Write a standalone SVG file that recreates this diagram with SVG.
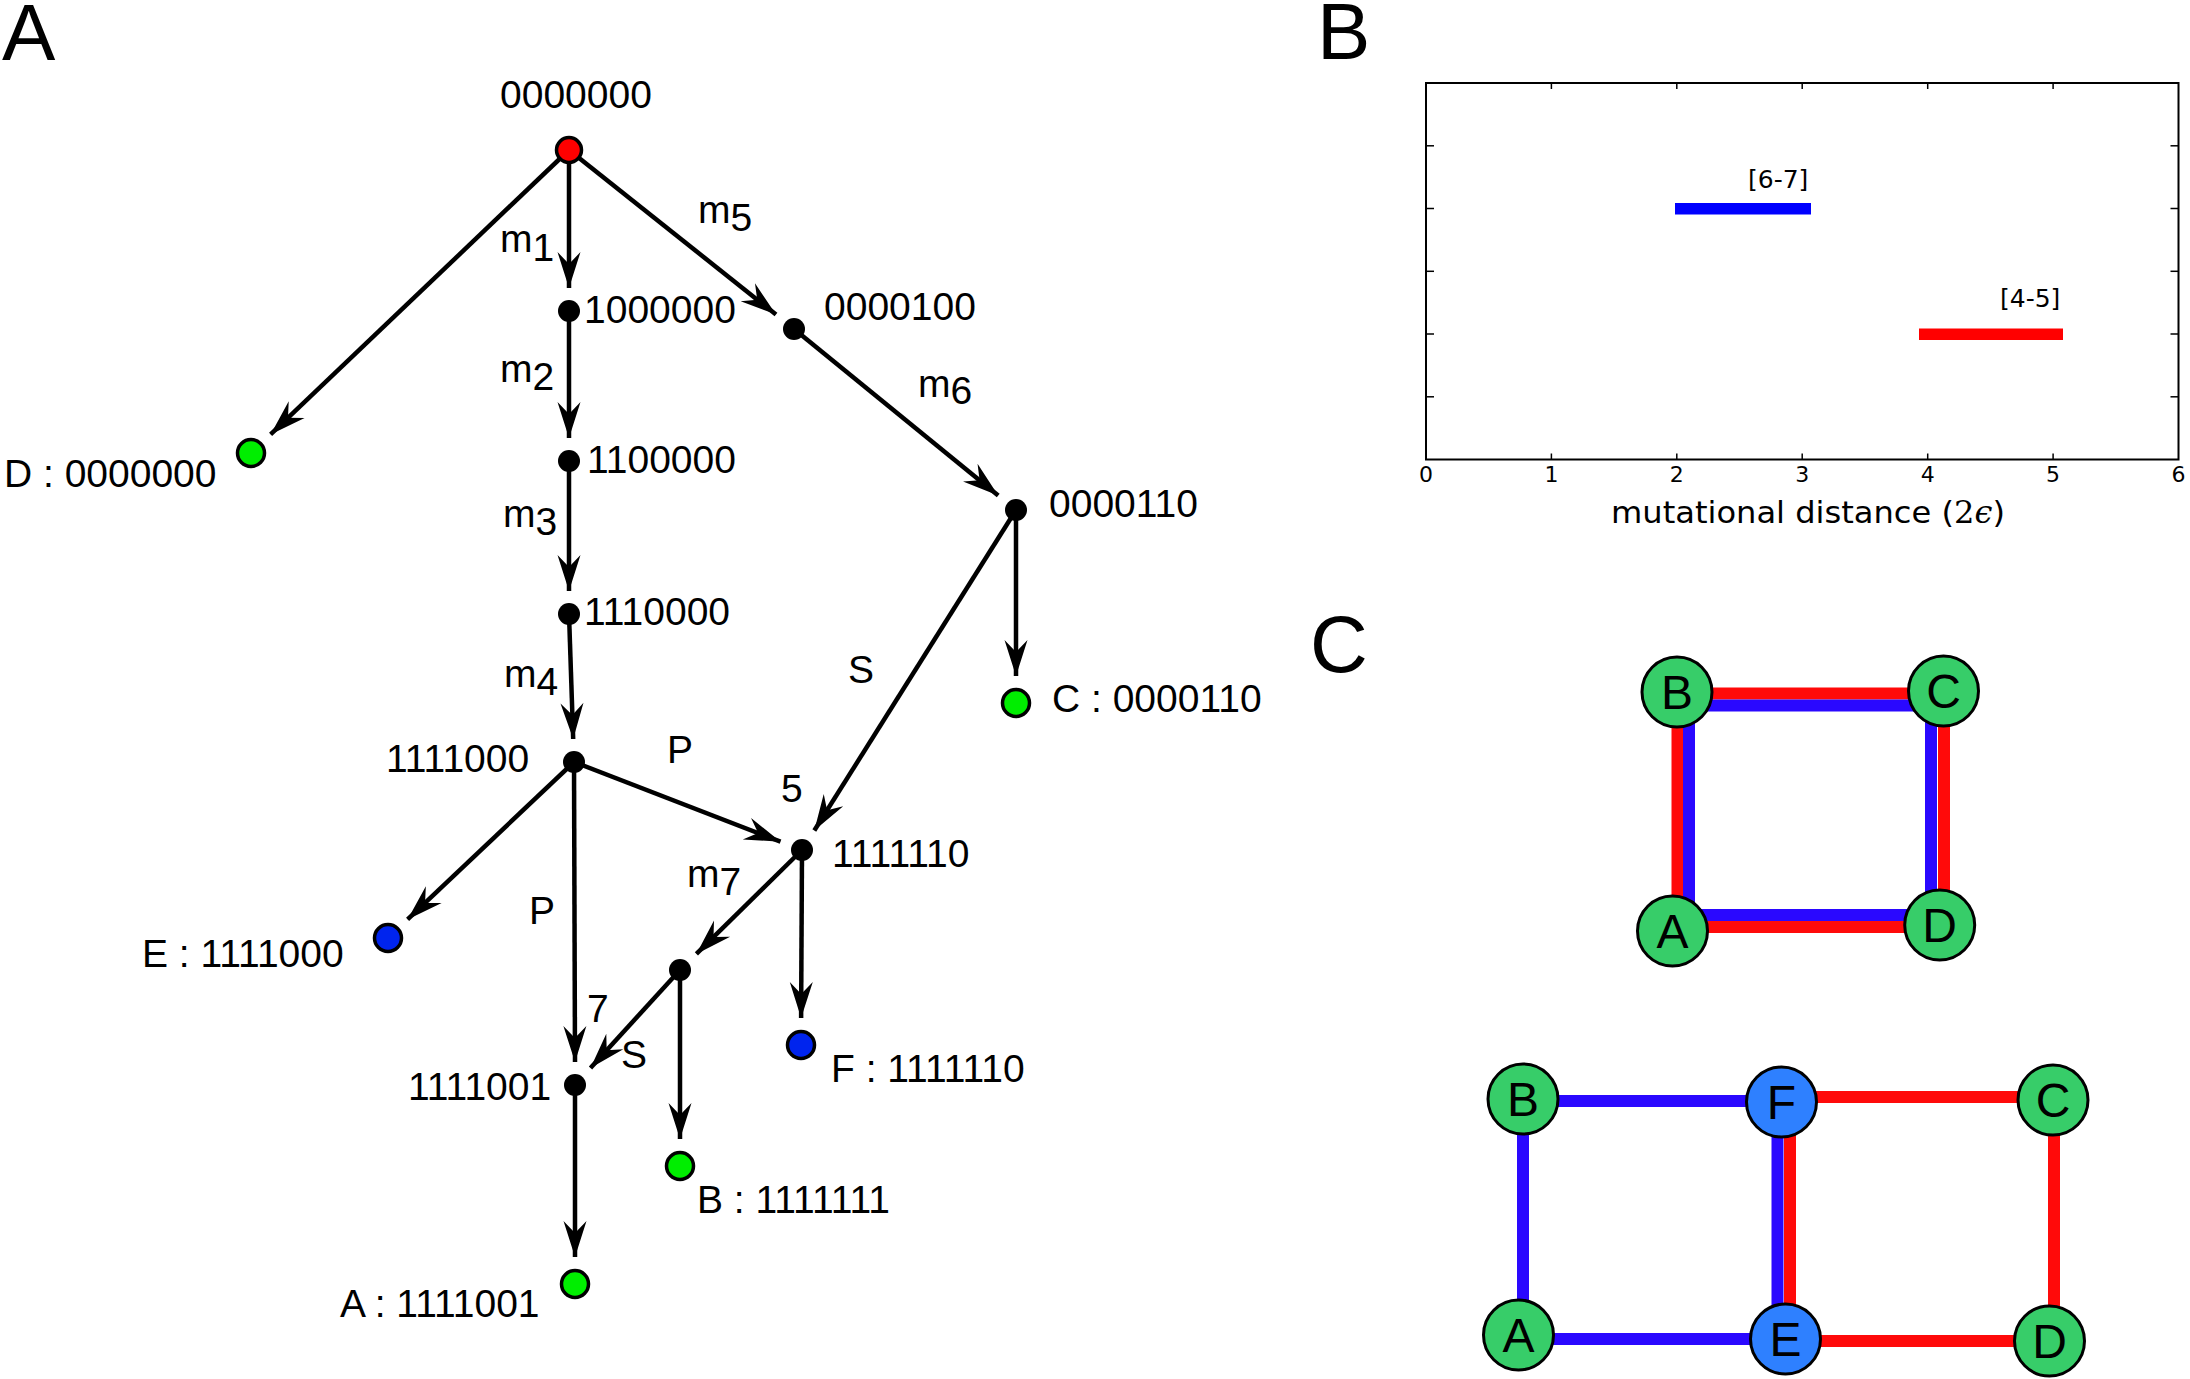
<svg xmlns="http://www.w3.org/2000/svg" width="2190" height="1379" viewBox="0 0 2190 1379">
<style>
.bg{fill:#ffffff}
.e{stroke:#000;stroke-width:4.5;fill:none}
.t{font-family:"Liberation Sans",Arial,sans-serif;font-size:39px;fill:#000}
.pl{font-family:"Liberation Sans",Arial,sans-serif;font-size:80px;fill:#000}
.dot{fill:#000}
.big{stroke:#000;stroke-width:3.5}
.red{fill:#ff0000}
.grn{fill:#00ee00}
.blu{fill:#0024ee}
.ax{stroke:#000;stroke-width:2;fill:none}
.tk{stroke:#000;stroke-width:1.5}
.bt{font-family:"DejaVu Sans",sans-serif;font-size:22px;fill:#000}
.cn{stroke:#000;stroke-width:3}
.cg{fill:#37cd69}
.cb{fill:#2e80ff}
.lr{stroke:#ff0a0a;stroke-width:12}
.lb{stroke:#2a08ff;stroke-width:12}
.ct{font-family:"Liberation Sans",Arial,sans-serif;font-size:48px;fill:#000;text-anchor:middle}
</style>
<defs>
<marker id="arr" viewBox="-50 -14 52 28" refX="-12" refY="0" markerWidth="52" markerHeight="28" markerUnits="userSpaceOnUse" orient="auto">
<path d="M-12,0 L-48,-11.5 L-36,0 L-48,11.5 Z" fill="#000"/>
</marker>
</defs>
<rect class="bg" x="0" y="0" width="2190" height="1379"/>

<!-- panel labels -->
<text class="pl" x="2" y="60">A</text>
<text class="pl" x="1317" y="59">B</text>
<text class="pl" x="1310" y="672">C</text>

<!-- Panel A connectors -->
<g id="connectors">
<line class="e" x1="569" y1="150" x2="569" y2="288" marker-end="url(#arr)"/>
<line class="e" x1="569" y1="311" x2="569" y2="438" marker-end="url(#arr)"/>
<line class="e" x1="569" y1="461" x2="569" y2="591" marker-end="url(#arr)"/>
<line class="e" x1="569" y1="614" x2="573.2" y2="739" marker-end="url(#arr)"/>
<line class="e" x1="569" y1="150" x2="776" y2="314.6" marker-end="url(#arr)"/>
<line class="e" x1="794" y1="329" x2="998.2" y2="495.4" marker-end="url(#arr)"/>
<line class="e" x1="569" y1="150" x2="270.6" y2="434.4" marker-end="url(#arr)"/>
<line class="e" x1="1016" y1="510" x2="1016" y2="676" marker-end="url(#arr)"/>
<line class="e" x1="1016" y1="510" x2="814.3" y2="830.5" marker-end="url(#arr)"/>
<line class="e" x1="574" y1="762" x2="780.5" y2="841.7" marker-end="url(#arr)"/>
<line class="e" x1="574" y1="762" x2="407.6" y2="919.4" marker-end="url(#arr)"/>
<line class="e" x1="574" y1="762" x2="575" y2="1062" marker-end="url(#arr)"/>
<line class="e" x1="802" y1="850" x2="696.4" y2="953.9" marker-end="url(#arr)"/>
<line class="e" x1="680" y1="970" x2="590.5" y2="1068" marker-end="url(#arr)"/>
<line class="e" x1="680" y1="970" x2="680" y2="1139" marker-end="url(#arr)"/>
<line class="e" x1="802" y1="850" x2="801.1" y2="1018" marker-end="url(#arr)"/>
<line class="e" x1="575" y1="1085" x2="575" y2="1257" marker-end="url(#arr)"/>
</g>

<g id="edge-labels">
<text class="t" x="500" y="252">m<tspan dy="9">1</tspan></text>
<text class="t" x="500" y="382">m<tspan dy="8">2</tspan></text>
<text class="t" x="503" y="527">m<tspan dy="8">3</tspan></text>
<text class="t" x="504" y="687">m<tspan dy="8">4</tspan></text>
<text class="t" x="698" y="223">m<tspan dy="8">5</tspan></text>
<text class="t" x="918" y="397">m<tspan dy="7">6</tspan></text>
<text class="t" x="687" y="887">m<tspan dy="8">7</tspan></text>
<text class="t" x="667" y="763">P</text>
<text class="t" x="529" y="924">P</text>
<text class="t" x="781" y="802">5</text>
<text class="t" x="587" y="1022">7</text>
<text class="t" x="621" y="1068">S</text>
<text class="t" x="848" y="683">S</text>
</g>

<!-- Panel A nodes -->
<g id="n0000000"><circle class="big red" cx="569" cy="150" r="12.5"/><text class="t" x="500" y="108">0000000</text></g>
<g id="n1000000"><circle class="dot" cx="569" cy="311" r="11"/><text class="t" x="584" y="323">1000000</text></g>
<g id="n1100000"><circle class="dot" cx="569" cy="461" r="11"/><text class="t" x="587" y="473">1100000</text></g>
<g id="n1110000"><circle class="dot" cx="569" cy="614" r="11"/><text class="t" x="584" y="625">1110000</text></g>
<g id="n1111000"><circle class="dot" cx="574" cy="762" r="11"/><text class="t" x="386" y="772">1111000</text></g>
<g id="n0000100"><circle class="dot" cx="794" cy="329" r="11"/><text class="t" x="824" y="320">0000100</text></g>
<g id="n0000110"><circle class="dot" cx="1016" cy="510" r="11"/><text class="t" x="1049" y="517">0000110</text></g>
<g id="n1111110"><circle class="dot" cx="802" cy="850" r="11"/><text class="t" x="832" y="867">1111110</text></g>
<g id="nmid"><circle class="dot" cx="680" cy="970" r="11"/></g>
<g id="n1111001"><circle class="dot" cx="575" cy="1085" r="11"/><text class="t" x="408" y="1100">1111001</text></g>
<g id="leafD"><circle class="big grn" cx="251" cy="453" r="13.5"/><text class="t" x="4" y="487">D : 0000000</text></g>
<g id="leafE"><circle class="big blu" cx="388" cy="938" r="13.5"/><text class="t" x="142" y="967">E : 1111000</text></g>
<g id="leafC"><circle class="big grn" cx="1016" cy="703" r="13.5"/><text class="t" x="1052" y="712">C : 0000110</text></g>
<g id="leafF"><circle class="big blu" cx="801" cy="1045" r="13.5"/><text class="t" x="831" y="1082">F : 1111110</text></g>
<g id="leafB"><circle class="big grn" cx="680" cy="1166" r="13.5"/><text class="t" x="697" y="1213">B : 1111111</text></g>
<g id="leafA"><circle class="big grn" cx="575" cy="1284" r="13.5"/><text class="t" x="340" y="1317">A : 1111001</text></g>

<!-- Panel B plot -->
<g id="plotB">
<rect x="1426" y="83" width="752.5" height="376.5" fill="#fff" stroke="none"/>
<rect x="1675" y="203" width="136" height="11.5" fill="#0000ff"/>
<rect x="1919" y="328.5" width="144" height="11.5" fill="#ff0000"/>
<rect class="ax" x="1426" y="83" width="752.5" height="376.5"/>
<g class="tk">
<line x1="1551.4" y1="459.5" x2="1551.4" y2="453.5"/>
<line x1="1676.8" y1="459.5" x2="1676.8" y2="453.5"/>
<line x1="1802.2" y1="459.5" x2="1802.2" y2="453.5"/>
<line x1="1927.7" y1="459.5" x2="1927.7" y2="453.5"/>
<line x1="2053.1" y1="459.5" x2="2053.1" y2="453.5"/>
<line x1="1551.4" y1="83" x2="1551.4" y2="89"/>
<line x1="1676.8" y1="83" x2="1676.8" y2="89"/>
<line x1="1802.2" y1="83" x2="1802.2" y2="89"/>
<line x1="1927.7" y1="83" x2="1927.7" y2="89"/>
<line x1="2053.1" y1="83" x2="2053.1" y2="89"/>
<line x1="1426" y1="145.8" x2="1434" y2="145.8"/>
<line x1="1426" y1="208.5" x2="1434" y2="208.5"/>
<line x1="1426" y1="271.3" x2="1434" y2="271.3"/>
<line x1="1426" y1="334" x2="1434" y2="334"/>
<line x1="1426" y1="396.8" x2="1434" y2="396.8"/>
<line x1="2178.5" y1="145.8" x2="2170.5" y2="145.8"/>
<line x1="2178.5" y1="208.5" x2="2170.5" y2="208.5"/>
<line x1="2178.5" y1="271.3" x2="2170.5" y2="271.3"/>
<line x1="2178.5" y1="334" x2="2170.5" y2="334"/>
<line x1="2178.5" y1="396.8" x2="2170.5" y2="396.8"/>
</g>
<g class="bt" text-anchor="middle">
<text x="1426" y="482">0</text>
<text x="1551.4" y="482">1</text>
<text x="1676.8" y="482">2</text>
<text x="1802.2" y="482">3</text>
<text x="1927.7" y="482">4</text>
<text x="2053.1" y="482">5</text>
<text x="2178.5" y="482">6</text>
</g>
<text class="bt" x="1748" y="188" style="font-size:25px">[6-7]</text>
<text class="bt" x="2000" y="307" style="font-size:25px">[4-5]</text>
<text class="bt" x="1611" y="523" style="font-size:31px" textLength="394" lengthAdjust="spacingAndGlyphs">mutational distance (<tspan font-family="DejaVu Serif, serif">2</tspan><tspan font-family="DejaVu Serif, serif" font-style="italic">ϵ</tspan>)</text>
</g>

<!-- Panel C, top square -->
<g id="c1-edges">
<line class="lr" x1="1677" y1="693.5" x2="1943" y2="693.5"/>
<line class="lb" x1="1677" y1="705.5" x2="1943" y2="705.5"/>
<line class="lr" x1="1677.5" y1="692" x2="1677.5" y2="931"/>
<line class="lb" x1="1689" y1="692" x2="1689" y2="931"/>
<line class="lb" x1="1931" y1="691" x2="1931" y2="925"/>
<line class="lr" x1="1944" y1="691" x2="1944" y2="925"/>
<line class="lb" x1="1672" y1="915" x2="1940" y2="915"/>
<line class="lr" x1="1672" y1="927" x2="1940" y2="927"/>
</g>
<g id="c1-B"><circle class="cn cg" cx="1677" cy="692" r="35"/><text class="ct" x="1677" y="709">B</text></g>
<g id="c1-C"><circle class="cn cg" cx="1943.5" cy="691" r="35"/><text class="ct" x="1943.5" y="708">C</text></g>
<g id="c1-A"><circle class="cn cg" cx="1672.5" cy="931" r="35"/><text class="ct" x="1672.5" y="948">A</text></g>
<g id="c1-D"><circle class="cn cg" cx="1939.7" cy="925" r="35"/><text class="ct" x="1939.7" y="942">D</text></g>

<!-- Panel C, bottom graph -->
<g id="c2-edges">
<line class="lb" x1="1523" y1="1101" x2="1781" y2="1101"/>
<line class="lr" x1="1781" y1="1097" x2="2053" y2="1097"/>
<line class="lb" x1="1523" y1="1099" x2="1523" y2="1335"/>
<line class="lb" x1="1777.5" y1="1102" x2="1777.5" y2="1339"/>
<line class="lr" x1="1790" y1="1102" x2="1790" y2="1339"/>
<line class="lr" x1="2054" y1="1100" x2="2054" y2="1341"/>
<line class="lb" x1="1518" y1="1339" x2="1785" y2="1339"/>
<line class="lr" x1="1785" y1="1341" x2="2049" y2="1341"/>
</g>
<g id="c2-B"><circle class="cn cg" cx="1523" cy="1099" r="35"/><text class="ct" x="1523" y="1116">B</text></g>
<g id="c2-F"><circle class="cn cb" cx="1781.5" cy="1102" r="35"/><text class="ct" x="1781.5" y="1119">F</text></g>
<g id="c2-C"><circle class="cn cg" cx="2053" cy="1100" r="35"/><text class="ct" x="2053" y="1117">C</text></g>
<g id="c2-A"><circle class="cn cg" cx="1518.5" cy="1335" r="35"/><text class="ct" x="1518.5" y="1352">A</text></g>
<g id="c2-E"><circle class="cn cb" cx="1785.5" cy="1339" r="35"/><text class="ct" x="1785.5" y="1356">E</text></g>
<g id="c2-D"><circle class="cn cg" cx="2049.5" cy="1341" r="35"/><text class="ct" x="2049.5" y="1358">D</text></g>
</svg>
